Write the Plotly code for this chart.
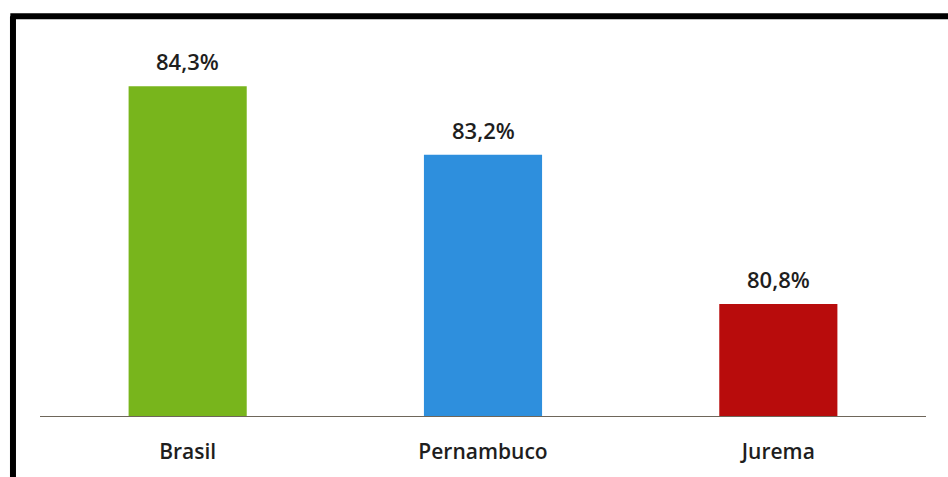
import plotly.graph_objects as go

# Data
categories = ["Brasil", "Pernambuco", "Jurema"]
values = [84.3, 83.2, 80.8]
bar_colors = ["#78b51c", "#2e8fdd", "#b80c0c"]
value_labels = [f"{v:.1f}%".replace(".", ",") for v in values]

FONT = "Open Sans, Lato, sans-serif"
TEXT_COLOR = "#1e1e1e"

fig = go.Figure(
    go.Bar(
        x=categories,
        y=values,
        marker=dict(color=bar_colors, line=dict(width=0)),
        width=0.4,
        hoverinfo="x+y",
    )
)

# Value labels above each bar
for cat, val, lab in zip(categories, values, value_labels):
    fig.add_annotation(
        x=cat, y=val, text=lab, showarrow=False,
        yanchor="bottom", yshift=8,
        font=dict(family=FONT, size=22, color=TEXT_COLOR, weight=600),
    )

fig.update_layout(
    width=948,
    height=477,
    margin=dict(l=40, r=22, t=24, b=52),
    paper_bgcolor="white",
    plot_bgcolor="white",
    showlegend=False,
    xaxis=dict(
        showgrid=False,
        showline=True,
        linecolor="#6e665a",
        linewidth=1,
        ticks="",
        ticklabelstandoff=17,
        tickfont=dict(family=FONT, size=21, color=TEXT_COLOR, weight=600),
    ),
    yaxis=dict(
        range=[79, 85.3],
        showgrid=False,
        zeroline=False,
        showticklabels=False,
        showline=False,
    ),
)

# Outer frame (left and top edges)
frame = dict(type="line", xref="paper", yref="paper",
             line=dict(color="black", width=6), layer="above")
fig.add_shape(**frame, x0=-0.0305, y0=-0.2, x1=-0.0305, y1=1.0195)
fig.add_shape(**frame, x0=-0.0335, y0=1.0195, x1=1.1, y1=1.0195)

fig.write_html("out.html")
